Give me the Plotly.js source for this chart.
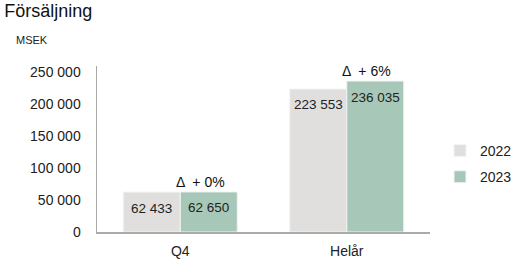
<!DOCTYPE html>
<html>
<head>
<meta charset="utf-8">
<script src="https://cdn.plot.ly/plotly-3.0.1.min.js"></script>
<style>html,body{margin:0;padding:0;background:#fff;}#chart{width:518px;height:263px;}</style>
</head>
<body>
<div id="chart"></div>
<script>
const categories = ["Q4", "Helår"];
const values2022 = [62433, 223553];
const values2023 = [62650, 236035];
const deltaLabels = ["Δ  + 0%", "Δ  + 6%"];
const seriesNames = ["2022", "2023"];
const yTicks = [0, 50000, 100000, 150000, 200000, 250000];
const yTickLabels = ["0", "50 000", "100 000", "150 000", "200 000", "250 000"];

const FONT = "Liberation Sans, Arial, sans-serif";
const colors = ["#e0dfde", "#a7c8b8"];

function fmt(v){ return String(v).replace(/\B(?=(\d{3})+(?!\d))/g, " "); }

const traces = [values2022, values2023].map((vals, i) => ({
  type: "bar",
  x: categories,
  y: vals,
  name: seriesNames[i],
  legendgroup: seriesNames[i],
  marker: {color: colors[i], line: {color: "#f4f4f4", width: 1}},
  hoverinfo: "none"
}));

const annotations = [];
[values2022, values2023].forEach((vals, i) => {
  vals.forEach((v, j) => {
    annotations.push({
      x: categories[j], y: v, xref: "x", yref: "y",
      xshift: i === 0 ? -28.5 : 28.5, yshift: -16,
      text: fmt(v), showarrow: false, yanchor: "middle", xanchor: "center",
      font: {family: FONT, size: 13.5, color: "#222"}
    });
  });
});
values2023.forEach((v, j) => {
  annotations.push({
    x: categories[j], y: v, xref: "x", yref: "y",
    xshift: 20, yshift: 0,
    text: deltaLabels[j], showarrow: false, yanchor: "bottom", xanchor: "center",
    font: {family: FONT, size: 14, color: "#111"}
  });
});
annotations.push({
  text: "MSEK", xref: "paper", yref: "paper", x: -0.249, y: 1.157,
  xanchor: "left", yanchor: "middle", showarrow: false,
  font: {family: FONT, size: 11, color: "#222"}
});

const layout = {
  width: 518, height: 263,
  margin: {l: 97, r: 88, t: 66, b: 31, pad: 0, autoexpand: false},
  paper_bgcolor: "#fff", plot_bgcolor: "#fff",
  font: {family: FONT, color: "#222"},
  title: {text: "Försäljning", xref: "container", yref: "container", x: 0.008, xanchor: "left", y: 0.985, yanchor: "top",
          font: {family: FONT, size: 18, color: "#111"}},
  barmode: "group", bargap: 0.315, bargroupgap: 0,
  xaxis: {showline: true, linecolor: "#aaa", linewidth: 1.5, showgrid: false, zeroline: false,
          ticks: "", tickfont: {family: FONT, size: 14, color: "#222"}, ticklabelstandoff: 6, fixedrange: true},
  yaxis: {range: [0, 259500], showline: true, linecolor: "#aaa", linewidth: 1.5, showgrid: false, zeroline: false,
          tickvals: yTicks, ticktext: yTickLabels, ticks: "", tickfont: {family: FONT, size: 14, color: "#222"},
          ticklabelstandoff: 12, fixedrange: true},
  legend: {x: 1.03, y: 0.41, xanchor: "left", yanchor: "middle", traceorder: "grouped", tracegroupgap: 5,
           font: {family: FONT, size: 14, color: "#222"}, itemwidth: 30},
  showlegend: true,
  annotations: annotations
};

Plotly.newPlot("chart", traces, layout, {displayModeBar: false, staticPlot: true});
</script>
</body>
</html>
